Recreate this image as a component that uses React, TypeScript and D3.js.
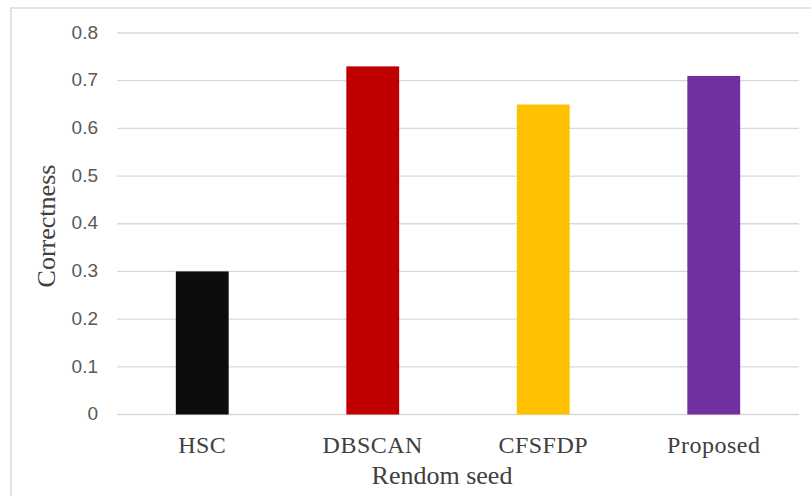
import * as d3 from 'd3';

const categories = ['HSC', 'DBSCAN', 'CFSFDP', 'Proposed'];
const correctness = [0.3, 0.73, 0.65, 0.71];
const barColors = ['#0d0d0d', '#c00000', '#ffc000', '#7030a0'];
const yTicks = [0, 0.1, 0.2, 0.3, 0.4, 0.5, 0.6, 0.7, 0.8];

export default function App() {
  const width = 811;
  const height = 496;
  const margin = { top: 33, right: 12, bottom: 81.5, left: 117 };

  const x = d3
    .scaleBand<string>()
    .domain(categories)
    .range([margin.left, width - margin.right])
    .paddingInner(0.69)
    .paddingOuter(0.345);

  const y = d3
    .scaleLinear()
    .domain([0, 0.8])
    .range([height - margin.bottom, margin.top]);

  const serif = '"Liberation Serif", "Times New Roman", serif';
  const sans = '"Liberation Sans", Arial, sans-serif';

  return (
    <svg
      width={width}
      height={height}
      viewBox={`0 0 ${width} ${height}`}
      style={{ position: 'absolute', left: 0, top: 0, display: 'block', background: '#fff' }}
    >
      <rect x={11} y={8} width={830} height={520} fill="#fff" stroke="#d9d9d9" strokeWidth={1.5} />

      {/* gridlines + y labels */}
      {yTicks.map((t) => (
        <g key={t}>
          <line
            x1={margin.left}
            x2={width - margin.right}
            y1={y(t)}
            y2={y(t)}
            stroke="#d9d9d9"
            strokeWidth={1.3}
          />
          <text
            x={98}
            y={y(t)}
            dy="0.3em"
            textAnchor="end"
            fontFamily={sans}
            fontSize={19}
            fill="#595959"
          >
            {t === 0 ? '0' : t.toFixed(1)}
          </text>
        </g>
      ))}

      {/* bars */}
      {categories.map((c, i) => (
        <rect
          key={c}
          x={x(c)}
          y={y(correctness[i])}
          width={x.bandwidth()}
          height={y(0) - y(correctness[i])}
          fill={barColors[i]}
        />
      ))}

      {/* x labels */}
      {categories.map((c) => (
        <text
          key={c}
          x={(x(c) as number) + x.bandwidth() / 2}
          y={453}
          textAnchor="middle"
          fontFamily={serif}
          fontSize={24}
          letterSpacing={0.5}
          fill="#404040"
        >
          {c}
        </text>
      ))}

      <text x={442} y={484} textAnchor="middle" fontFamily={serif} fontSize={26} fill="#404040">
        Rendom seed
      </text>
      <text
        transform="translate(55,226) rotate(-90)"
        textAnchor="middle"
        fontFamily={serif}
        fontSize={26}
        fill="#404040"
      >
        Correctness
      </text>
    </svg>
  );
}
